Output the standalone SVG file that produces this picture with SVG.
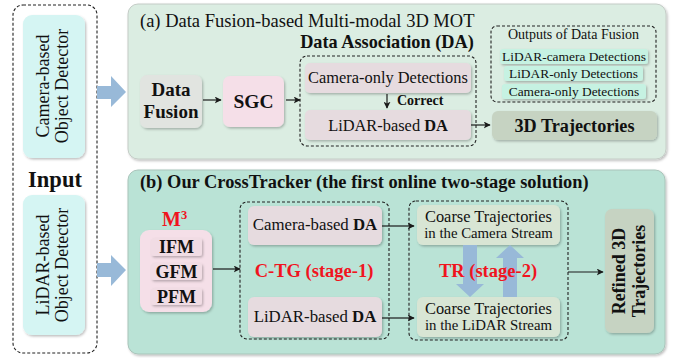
<svg xmlns="http://www.w3.org/2000/svg" width="681" height="358" viewBox="0 0 681 358">
<defs>
<filter id="sh" x="-10%" y="-10%" width="130%" height="140%">
<feDropShadow dx="1.2" dy="1.5" stdDeviation="1.3" flood-color="#000" flood-opacity="0.25"/>
</filter>
<marker id="ah" viewBox="0 0 10 10" refX="9" refY="5" markerWidth="7" markerHeight="7" markerUnits="userSpaceOnUse" orient="auto">
<path d="M0,0 L10,5 L0,10 L2.5,5 z" fill="#1a1a1a"/>
</marker>
<style>
text{font-family:"Liberation Serif","Times New Roman",serif;fill:#111}
.b{font-weight:bold}
.red{fill:#f0141e;font-weight:bold}
.dash{fill:none;stroke:#222;stroke-width:1.1;stroke-dasharray:3 2}
.ln{fill:none;stroke:#1a1a1a;stroke-width:1.2;marker-end:url(#ah)}
.blk{fill:#98b9d8}
.det{fill:#d5f5f3}
.pink{fill:#f5dfe8}
.rose{fill:#e6dbdf}
.grn{fill:#d8e5d4}
.dark{fill:#c6d3c2}
.cy{fill:#c6f2e2}
</style>
</defs>

<g id="input">
<rect class="dash" x="13" y="5" width="84" height="348" rx="10"/>
<text class="b" x="55" y="187" font-size="22.5" text-anchor="middle">Input</text>
</g>
<g id="camera-detector">
<rect class="det" x="23" y="15" width="62" height="143" rx="9" filter="url(#sh)"/>
<text font-size="18" text-anchor="middle" transform="translate(49,86) rotate(-90)">Camera-based</text>
<text font-size="18" text-anchor="middle" transform="translate(68,86) rotate(-90)">Object Detector</text>
</g>
<g id="lidar-detector">
<rect class="det" x="23" y="195" width="62" height="140" rx="9" filter="url(#sh)"/>
<text font-size="18" text-anchor="middle" transform="translate(49,265) rotate(-90)">LiDAR-based</text>
<text font-size="18" text-anchor="middle" transform="translate(68,265) rotate(-90)">Object Detector</text>
</g>

<g id="panel-a">
<rect x="128" y="4" width="538" height="155" rx="10" fill="#dbede2" stroke="#c4ccc6" stroke-width="1" filter="url(#sh)"/>
<text x="140" y="27" font-size="18.5">(a) Data Fusion-based Multi-modal 3D MOT</text>
</g>
<g id="data-fusion">
<rect x="140" y="75" width="62" height="53" rx="7" fill="#e1e4e0" filter="url(#sh)"/>
<text class="b" x="171" y="96" font-size="19" text-anchor="middle">Data</text>
<text class="b" x="171" y="118" font-size="19" text-anchor="middle">Fusion</text>
</g>
<g id="sgc">
<rect class="pink" x="223" y="76" width="61" height="51" rx="7" filter="url(#sh)"/>
<text class="b" x="253.5" y="108" font-size="19.5" text-anchor="middle">SGC</text>
</g>
<g id="data-association">
<text class="b" x="387" y="48" font-size="18.3" text-anchor="middle">Data Association (DA)</text>
<rect class="dash" x="300" y="56" width="176" height="90" rx="7"/>
</g>
<g id="camera-only-detections">
<rect class="rose" x="305" y="63" width="166" height="30" rx="5" filter="url(#sh)"/>
<text x="388" y="83" font-size="16.4" text-anchor="middle">Camera-only Detections</text>
</g>
<g id="correct-label">
<text class="b" x="397" y="105" font-size="14">Correct</text>
</g>
<g id="lidar-based-da-a">
<rect class="rose" x="305" y="110" width="166" height="30" rx="5" filter="url(#sh)"/>
<text x="388" y="131" font-size="16.4" text-anchor="middle">LiDAR-based <tspan class="b">DA</tspan></text>
</g>
<g id="outputs">
<rect class="dash" x="491" y="26" width="165" height="76" rx="6"/>
<text x="573.5" y="39" font-size="14" text-anchor="middle">Outputs of Data Fusion</text>
<rect class="cy" x="500" y="49" width="148" height="15" rx="3" filter="url(#sh)"/>
<text x="574" y="61" font-size="13.4" text-anchor="middle">LiDAR-camera Detections</text>
<rect class="cy" x="504" y="66" width="139" height="15" rx="3" filter="url(#sh)"/>
<text x="573.5" y="78" font-size="13.4" text-anchor="middle">LiDAR-only Detections</text>
<rect class="cy" x="502" y="84" width="144" height="15" rx="3" filter="url(#sh)"/>
<text x="574" y="96" font-size="13.4" text-anchor="middle">Camera-only Detections</text>
</g>
<g id="trajectories-3d">
<rect class="dark" x="492" y="111" width="165" height="29" rx="6" filter="url(#sh)"/>
<text class="b" x="574.5" y="132" font-size="18.2" text-anchor="middle">3D Trajectories</text>
</g>

<g id="panel-b">
<rect x="128" y="170" width="537" height="184" rx="10" fill="#bae3d6" stroke="#a9c4ba" stroke-width="1" filter="url(#sh)"/>
<text class="b" x="140" y="188" font-size="18.4">(b) Our CrossTracker (the first online two-stage solution)</text>
</g>
<g id="m3">
<text class="red" x="162" y="226" font-size="20">M<tspan font-size="12.5" dy="-7">3</tspan></text>
<rect class="pink" x="140" y="230" width="72" height="82" rx="9" filter="url(#sh)"/>
<rect x="151" y="238" width="51" height="18" rx="3" fill="#f1dce4" filter="url(#sh)"/>
<text class="b" x="176.5" y="253" font-size="18" text-anchor="middle">IFM</text>
<rect x="151" y="263" width="51" height="17" rx="3" fill="#f1dce4" filter="url(#sh)"/>
<text class="b" x="176.5" y="278" font-size="18" text-anchor="middle">GFM</text>
<rect x="151" y="288" width="51" height="17" rx="3" fill="#f1dce4" filter="url(#sh)"/>
<text class="b" x="176.5" y="303" font-size="18" text-anchor="middle">PFM</text>
</g>
<g id="ctg">
<rect class="dash" x="240" y="202" width="149" height="137" rx="7"/>
<text class="red" x="314" y="277" font-size="18.5" text-anchor="middle">C-TG (stage-1)</text>
</g>
<g id="camera-based-da">
<rect class="rose" x="248" y="206" width="134" height="39" rx="6" filter="url(#sh)"/>
<text x="315" y="230" font-size="16.8" text-anchor="middle">Camera-based <tspan class="b">DA</tspan></text>
</g>
<g id="lidar-based-da-b">
<rect class="rose" x="248" y="297" width="134" height="40" rx="6" filter="url(#sh)"/>
<text x="315" y="322" font-size="16.8" text-anchor="middle">LiDAR-based <tspan class="b">DA</tspan></text>
</g>
<g id="tr">
<rect class="dash" x="409" y="201" width="159" height="139" rx="7"/>
</g>
<g id="coarse-camera">
<rect class="grn" x="417" y="205" width="143" height="40" rx="6" filter="url(#sh)"/>
<text x="488.5" y="222" font-size="16.4" text-anchor="middle">Coarse Trajectories</text>
<text x="488.5" y="238" font-size="14.8" text-anchor="middle">in the Camera Stream</text>
</g>
<g id="coarse-lidar">
<rect class="grn" x="417" y="297" width="143" height="40" rx="6" filter="url(#sh)"/>
<text x="488.5" y="314" font-size="16.4" text-anchor="middle">Coarse Trajectories</text>
<text x="488.5" y="330" font-size="14.8" text-anchor="middle">in the LiDAR Stream</text>
</g>
<g id="refined">
<rect class="dark" x="605" y="209" width="49" height="124" rx="7" filter="url(#sh)"/>
<text class="b" font-size="18" text-anchor="middle" transform="translate(625,271) rotate(-90)">Refined 3D</text>
<text class="b" font-size="18" text-anchor="middle" transform="translate(645,271) rotate(-90)">Trajectories</text>
</g>

<g id="connectors">
<polygon class="blk" points="97,86 111,86 111,76 126,92 111,107 111,99 97,99"/>
<polygon class="blk" points="97,263 111,263 111,255 126,270 111,286 111,277 97,277"/>
<line class="ln" x1="203" y1="100" x2="221" y2="100"/>
<line class="ln" x1="286" y1="100" x2="300" y2="100"/>
<line class="ln" x1="387" y1="94" x2="387" y2="108"/>
<line class="ln" x1="471" y1="125" x2="490" y2="125"/>
<line class="ln" x1="213" y1="269" x2="240" y2="269"/>
<line class="ln" x1="382" y1="226" x2="414" y2="226"/>
<line class="ln" x1="382" y1="318" x2="414" y2="318"/>
<line class="ln" x1="568" y1="272" x2="603" y2="272"/>
<polygon class="blk" points="463,245 477,245 477,284 484,284 470,297 456,284 463,284"/>
<polygon class="blk" points="503,297 517,297 517,258 524,258 510,245 496,258 503,258"/>
</g>
<text class="red" x="488" y="277" font-size="18.5" text-anchor="middle">TR (stage-2)</text>
</svg>
